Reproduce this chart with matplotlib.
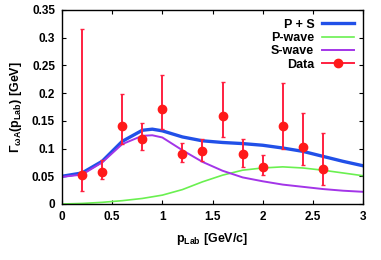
import numpy as np
import matplotlib
matplotlib.use("Agg")
from matplotlib import pyplot as plt
from matplotlib.lines import Line2D

# curves
x_curve = [0.0, 0.2, 0.4, 0.6, 0.8, 0.9, 1.0, 1.2, 1.4, 1.6, 1.8, 2.0, 2.2, 2.4, 2.6, 2.8, 3.0]
ps_wave = [0.050, 0.056, 0.077, 0.113, 0.133, 0.135, 0.132, 0.121, 0.114, 0.111, 0.109, 0.106, 0.101, 0.095, 0.086, 0.077, 0.069]
p_wave = [0.000, 0.001, 0.003, 0.006, 0.010, 0.013, 0.016, 0.026, 0.040, 0.052, 0.061, 0.065, 0.067, 0.065, 0.061, 0.056, 0.051]
s_wave = [0.049, 0.053, 0.075, 0.108, 0.123, 0.124, 0.120, 0.097, 0.076, 0.060, 0.048, 0.041, 0.035, 0.031, 0.027, 0.024, 0.022]

# data points with asymmetric errors
p_lab = [0.2, 0.4, 0.6, 0.8, 1.0, 1.2, 1.4, 1.6, 1.8, 2.0, 2.2, 2.4, 2.6]
gamma = [0.052, 0.057, 0.141, 0.117, 0.171, 0.091, 0.095, 0.158, 0.091, 0.066, 0.141, 0.102, 0.064]
err_hi = [0.316, 0.080, 0.198, 0.147, 0.233, 0.110, 0.118, 0.220, 0.118, 0.088, 0.218, 0.165, 0.128]
err_lo = [0.024, 0.045, 0.108, 0.097, 0.135, 0.075, 0.077, 0.120, 0.067, 0.052, 0.100, 0.070, 0.035]

plt.rcParams['font.family'] = ['Liberation Sans', 'DejaVu Sans']
plt.rcParams['font.weight'] = 'bold'
plt.rcParams['axes.labelweight'] = 'bold'
plt.rcParams['mathtext.fontset'] = 'custom'
plt.rcParams['mathtext.rm'] = 'Liberation Sans:bold'
plt.rcParams['mathtext.it'] = 'Liberation Sans:bold'
plt.rcParams['mathtext.bf'] = 'Liberation Sans:bold'

fig = plt.figure(figsize=(3.81, 2.60), dpi=100)
ax = fig.add_axes([62/381, 56/260, 301/381, 194/260])

ax.plot(x_curve, ps_wave, color='#2150e8', lw=2.4, label='P + S')
ax.plot(x_curve, p_wave, color='#6af050', lw=1.2, label='P-wave')
ax.plot(x_curve, s_wave, color='#a335e8', lw=1.4, label='S-wave')

yerr = [np.array(gamma) - np.array(err_lo), np.array(err_hi) - np.array(gamma)]
ax.errorbar(p_lab, gamma, yerr=yerr, fmt='o', color='#ff1a1a', ecolor='#ff2040',
            elinewidth=1.4, capsize=1.5, capthick=1.0, ms=6)

ax.set_xlim(0, 3)
ax.set_ylim(0, 0.35)
ax.set_xticks([0, 0.5, 1, 1.5, 2, 2.5, 3])
ax.set_xticklabels(['0', '0.5', '1', '1.5', '2', '2.5', '3'])
ax.set_yticks([0, 0.05, 0.1, 0.15, 0.2, 0.25, 0.3, 0.35])
ax.set_yticklabels(['0', '0.05', '0.1', '0.15', '0.2', '0.25', '0.3', '0.35'])
ax.tick_params(direction='in', top=True, right=True, labelsize=8.5, length=3, pad=5)
for s in ax.spines.values():
    s.set_linewidth(1.0)

ax.set_xlabel(r'$\mathregular{p_{Lab}}$ [GeV/c]', fontsize=9, fontweight='bold', labelpad=6)
ax.set_ylabel(r'$\Gamma_{\omega A}\mathregular{(p_{Lab})}$ [GeV]', fontsize=9, fontweight='bold', labelpad=6)

# legend: data handle drawn as line with dot, like the reference
handles, labels = ax.get_legend_handles_labels()
handles.append(Line2D([], [], color='#ff2040', lw=1.4, marker='o', ms=6, mfc='#ff1a1a', mec='#ff1a1a'))
labels.append('Data')
ax.legend(handles, labels, loc='upper right', frameon=False, markerfirst=False, fontsize=9,
          handlelength=2.6, labelspacing=0.1, borderaxespad=0.3, handletextpad=0.6,
          prop={'weight': 'bold', 'size': 9})

fig.savefig('out.png', dpi=100)
